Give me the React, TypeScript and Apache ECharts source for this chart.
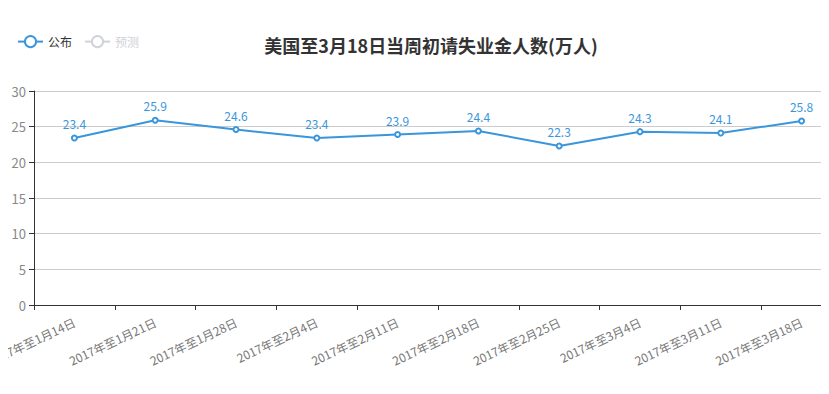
import React, { useEffect, useRef } from "react";
import * as echarts from "echarts";

const categories = [
  "2017年至1月14日",
  "2017年至1月21日",
  "2017年至1月28日",
  "2017年至2月4日",
  "2017年至2月11日",
  "2017年至2月18日",
  "2017年至2月25日",
  "2017年至3月4日",
  "2017年至3月11日",
  "2017年至3月18日",
];
const published = [23.4, 25.9, 24.6, 23.4, 23.9, 24.4, 22.3, 24.3, 24.1, 25.8];
const forecast: number[] = [];

export default function App() {
  const ref = useRef<HTMLDivElement>(null);
  useEffect(() => {
    if (!ref.current) return;
    const chart = echarts.init(ref.current, null, { renderer: "svg" });
    const font = "'Noto Sans CJK SC', 'Noto Sans', sans-serif";
    chart.setOption({
      animation: false,
      textStyle: { fontFamily: font },
      color: ["#3a96dc", "#bbbbbb"],
      title: {
        text: "美国至3月18日当周初请失业金人数(万人)",
        left: 426,
        textAlign: "center",
        top: 31,
        textStyle: { fontSize: 18, fontWeight: "bold", color: "#333", fontFamily: font },
      },
      legend: {
        left: 12,
        top: 30,
        itemWidth: 25,
        itemHeight: 14,
        itemGap: 12,
        textStyle: { fontSize: 12, color: "#333" },
        data: ["公布", "预测"],
        selected: { "公布": true, "预测": false },
      },
      grid: {
        left: 34,
        right: -13,
        top: 91,
        bottom: 89,
        containLabel: false,
        outerBoundsMode: "none",
      },
      xAxis: {
        type: "category",
        data: categories,
        boundaryGap: true,
        axisLine: { lineStyle: { color: "#333" } },
        axisTick: { show: true, lineStyle: { color: "#333" } },
        axisLabel: { rotate: 25, color: "#777", fontSize: 12, interval: 0, margin: 16 },
      },
      yAxis: {
        type: "value",
        min: 0,
        max: 30,
        interval: 5,
        axisLine: { show: true, lineStyle: { color: "#333" } },
        axisTick: { show: true, lineStyle: { color: "#333" } },
        axisLabel: { color: "#888", fontSize: 13 },
        splitLine: { lineStyle: { color: "#ccc" } },
      },
      series: [
        {
          name: "公布",
          type: "line",
          data: published,
          symbol: "emptyCircle",
          symbolSize: 5,
          lineStyle: { width: 2 },
          label: { show: true, position: "top", color: "#3a96dc", fontSize: 12 },
        },
        {
          name: "预测",
          type: "line",
          data: forecast,
          symbol: "emptyCircle",
          symbolSize: 5,
        },
      ],
      graphic: [
        {
          type: "line",
          shape: { x1: 0, y1: 392.5, x2: 829, y2: 392.5 },
          style: { stroke: "#e6eef5", lineWidth: 1 },
        },
      ],
    });
    return () => chart.dispose();
  }, []);
  return <div ref={ref} style={{ width: 829, height: 394, margin: -8 }} />;
}
